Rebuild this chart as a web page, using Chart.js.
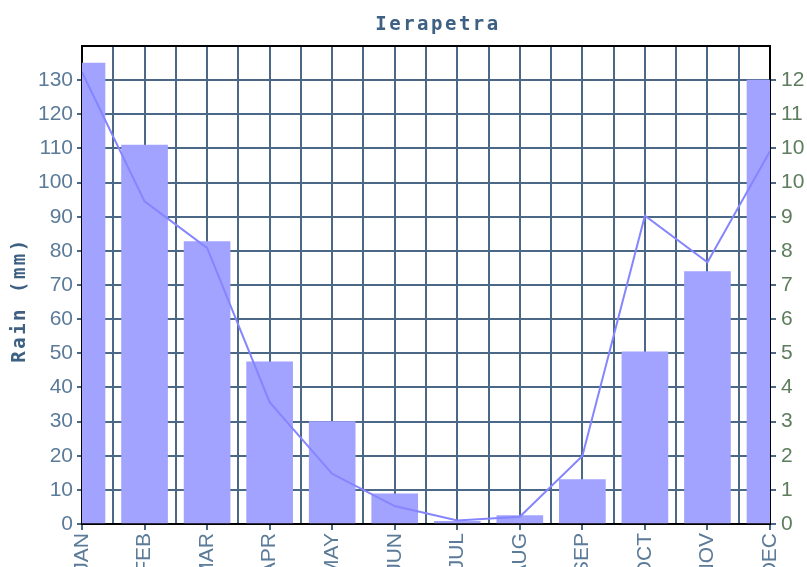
<!DOCTYPE html>
<html>
<head>
<meta charset="utf-8">
<title>Ierapetra</title>
<script src="https://cdn.jsdelivr.net/npm/chart.js@4/dist/chart.umd.min.js"></script>
<style>
    html, body { margin: 0; padding: 0; background: #fff; }
    #wrap { width: 807px; height: 567px; }
</style>
</head>
<body>
<div id="wrap"><canvas id="chart-rain"></canvas></div>
<script>
/* ========================================
   Ierapetra — monthly rain (mm) + rain days
   ======================================== */

const TITLE = 'Ierapetra';
const Y_TITLE = 'Rain (mm)';
const MONTHS = ['JAN', 'FEB', 'MAR', 'APR', 'MAY', 'JUN', 'JUL', 'AUG', 'SEP', 'OCT', 'NOV', 'DEC'];
const RAIN_MM = [135, 111, 82.7, 47.5, 30, 8.8, 0.8, 2.5, 13, 50.4, 73.9, 130];
const RAIN_DAYS = [12.6, 9.0, 7.7, 3.4, 1.4, 0.5, 0.1, 0.2, 1.9, 8.6, 7.3, 10.4];
const MM_TICKS = [0, 10, 20, 30, 40, 50, 60, 70, 80, 90, 100, 110, 120, 130, 140];
const DAYS_PER_MM = 2 / 21;

const GRID = '#4b6886';
const LEFT_TXT = '#5b7b99';
const RIGHT_TXT = '#5d7d5d';
const TITLE_TXT = '#3e6183';

const textPlugin = {
    id: 'textPlugin',
    afterDraw(chart) {
        const ctx = chart.ctx;
        ctx.save();
        ctx.fillStyle = TITLE_TXT;
        ctx.font = 'bold 19px "DejaVu Sans Mono"';
        ctx.letterSpacing = '2.5px';
        ctx.textAlign = 'center';
        ctx.textBaseline = 'middle';
        ctx.fillText(TITLE, 438, 25);
        ctx.translate(20, 300);
        ctx.rotate(-Math.PI / 2);
        ctx.fillText(Y_TITLE, 0, 0);
        ctx.restore();
    },
};

function createRainChart() {
    const ctx = document.getElementById('chart-rain');
    const xTicks = MONTHS.flatMap((m, i) => (i < MONTHS.length - 1 ? [i, i + 0.5] : [i]));

    new Chart(ctx, {
        data: {
            datasets: [{
                type: 'line',
                data: RAIN_DAYS.map((v, i) => ({ x: i, y: v })),
                yAxisID: 'y2',
                borderColor: '#8585ff',
                borderWidth: 2,
                pointRadius: 0,
                tension: 0,
                order: 1,
            }, {
                type: 'bar',
                data: RAIN_MM.map((v, i) => ({ x: i, y: v })),
                yAxisID: 'y',
                backgroundColor: '#a2a2ff',
                borderWidth: 0,
                barThickness: 46,
                order: 2,
            }],
        },
        options: {
            responsive: true,
            maintainAspectRatio: false,
            animation: false,
            layout: { padding: { top: 46, left: 0, right: 0, bottom: 0 } },
            plugins: { legend: { display: false }, tooltip: { enabled: false } },
            scales: {
                x: {
                    type: 'linear',
                    offset: false,
                    min: 0,
                    max: MONTHS.length - 1,
                    afterBuildTicks: (s) => { s.ticks = xTicks.map(v => ({ value: v })); },
                    afterFit: (s) => { s.height = 43; },
                    ticks: {
                        autoSkip: false,
                        minRotation: 90,
                        maxRotation: 90,
                        padding: 3,
                        color: LEFT_TXT,
                        font: { family: 'Liberation Sans', size: 21 },
                        callback: (v) => (Number.isInteger(v) ? MONTHS[v] : ''),
                    },
                    grid: {
                        offset: false,
                        color: GRID,
                        lineWidth: 2,
                        tickLength: 6,
                        tickColor: (c) => (c.tick && Number.isInteger(c.tick.value) ? GRID : 'rgba(0,0,0,0)'),
                    },
                    border: { color: '#000', width: 2 },
                },
                y: {
                    position: 'left',
                    min: 0,
                    max: 140,
                    afterBuildTicks: (s) => { s.ticks = MM_TICKS.map(v => ({ value: v })); },
                    afterFit: (s) => { s.width = 82; },
                    ticks: {
                        padding: 4,
                        color: LEFT_TXT,
                        font: { family: 'Liberation Sans', size: 21 },
                        callback: (v) => (v === 140 ? '' : v),
                    },
                    grid: {
                        color: (c) => (c.tick && c.tick.value === 140 ? '#000' : GRID),
                        lineWidth: 2,
                        tickLength: 5,
                        tickColor: (c) => (c.tick && c.tick.value === 140 ? 'rgba(0,0,0,0)' : GRID),
                    },
                    border: { color: '#000', width: 2 },
                },
                y2: {
                    position: 'right',
                    min: 0,
                    max: 140 * DAYS_PER_MM,
                    afterBuildTicks: (s) => {
                        s.ticks = MM_TICKS.slice(0, -1).map(v => ({ value: v * DAYS_PER_MM }));
                    },
                    afterFit: (s) => { s.width = 37; },
                    ticks: {
                        padding: 5,
                        color: RIGHT_TXT,
                        font: { family: 'Liberation Sans', size: 21 },
                        callback: (v) => Math.round(v),
                    },
                    grid: {
                        drawOnChartArea: false,
                        color: GRID,
                        lineWidth: 2,
                        tickLength: 6,
                    },
                    border: { color: '#000', width: 2 },
                },
            },
        },
        plugins: [textPlugin],
    });
}

createRainChart();
</script>
</body>
</html>
